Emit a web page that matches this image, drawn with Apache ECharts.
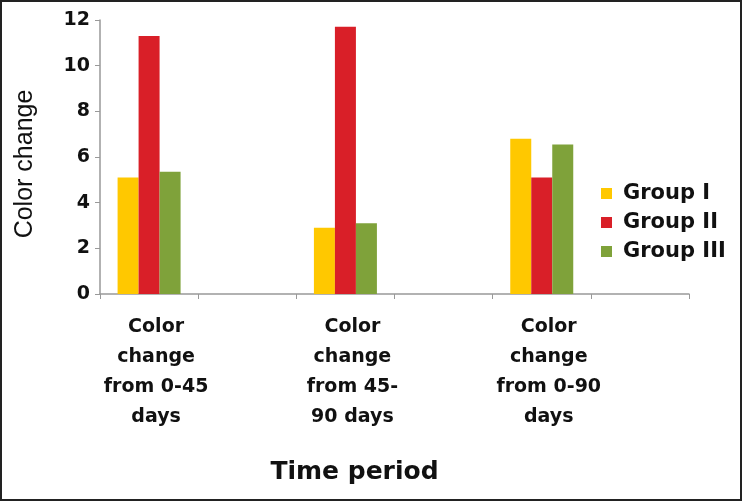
<!DOCTYPE html>
<html>
<head>
<meta charset="utf-8">
<title>Color change</title>
<script src="https://cdn.jsdelivr.net/npm/echarts@6/dist/echarts.min.js"></script>
<style>
  html, body { margin: 0; padding: 0; background: #fff; }
  #main { width: 742px; height: 501px; }
</style>
</head>
<body>
<div id="main"></div>
<script>
// periods (each one takes a slot, followed by an empty slot like the original sheet)
var periods = ['Color\nchange\nfrom 0-45\ndays', 'Color\nchange\nfrom 45-\n90 days', 'Color\nchange\nfrom 0-90\ndays'];
var groupNames = ['Group I', 'Group II', 'Group III'];
var group1 = [5.1, 2.9, 6.8];
var group2 = [11.3, 11.7, 5.1];
var group3 = [5.35, 3.1, 6.55];
var colors = ['#FFC800', '#D91F28', '#7FA23A'];
var yTicks = { min: 0, max: 12, step: 2 };

// pad with empty slots
var categories = [];
periods.forEach(function (p) { categories.push(p); categories.push(''); });
function pad(arr) {
    var out = [];
    arr.forEach(function (v) { out.push(v); out.push('-'); });
    return out;
}

var chart = echarts.init(document.getElementById('main'));
var series = [group1, group2, group3].map(function (vals, i) {
    return {
        name: groupNames[i],
        type: 'bar',
        data: pad(vals),
        barWidth: 21,
        barGap: '0%',
        itemStyle: { color: colors[i] }
    };
});

chart.setOption({
    animation: false,
    backgroundColor: '#fff',
    graphic: [{
        type: 'rect',
        shape: { x: 1, y: 1, width: 740, height: 499 },
        style: { fill: 'none', stroke: '#222', lineWidth: 2 },
        silent: true
    }],
    grid: { left: 100, right: 53, top: 20, bottom: 207 },
    legend: {
        orient: 'vertical',
        left: 596,
        top: 178,
        icon: 'rect',
        itemWidth: 11,
        itemHeight: 11,
        itemGap: 8,
        data: groupNames,
        textStyle: { fontFamily: 'DejaVu Sans', fontWeight: 'bold', fontSize: 21, color: '#111', padding: [0, 0, 0, 6] }
    },
    xAxis: {
        type: 'category',
        data: categories,
        name: 'Time period',
        nameLocation: 'middle',
        nameGap: 166,
        nameTextStyle: { fontFamily: 'DejaVu Sans', fontWeight: 'bold', fontSize: 25, color: '#111', padding: [0, 80, 0, 0] },
        axisLine: { lineStyle: { color: '#999', width: 1.5 } },
        axisTick: { show: true, length: 5, lineStyle: { color: '#999' } },
        axisLabel: {
            interval: 0,
            margin: 18,
            fontFamily: 'DejaVu Sans',
            fontWeight: 'bold',
            fontSize: 19,
            lineHeight: 30,
            color: '#111',
            padding: [0, 0, 0, 14]
        }
    },
    yAxis: {
        type: 'value',
        min: yTicks.min,
        max: yTicks.max,
        interval: yTicks.step,
        name: 'Color change',
        nameLocation: 'middle',
        nameGap: 62,
        nameTextStyle: { fontFamily: 'Liberation Sans', fontSize: 25, color: '#111', padding: [0, 14, 0, 0] },
        axisLine: { show: true, lineStyle: { color: '#999', width: 1.5 } },
        axisTick: { show: true, length: 5, lineStyle: { color: '#999' } },
        splitLine: { show: false },
        axisLabel: { fontFamily: 'DejaVu Sans', fontWeight: 'bold', fontSize: 19, color: '#111', margin: 10 }
    },
    series: series
});
</script>
</body>
</html>
